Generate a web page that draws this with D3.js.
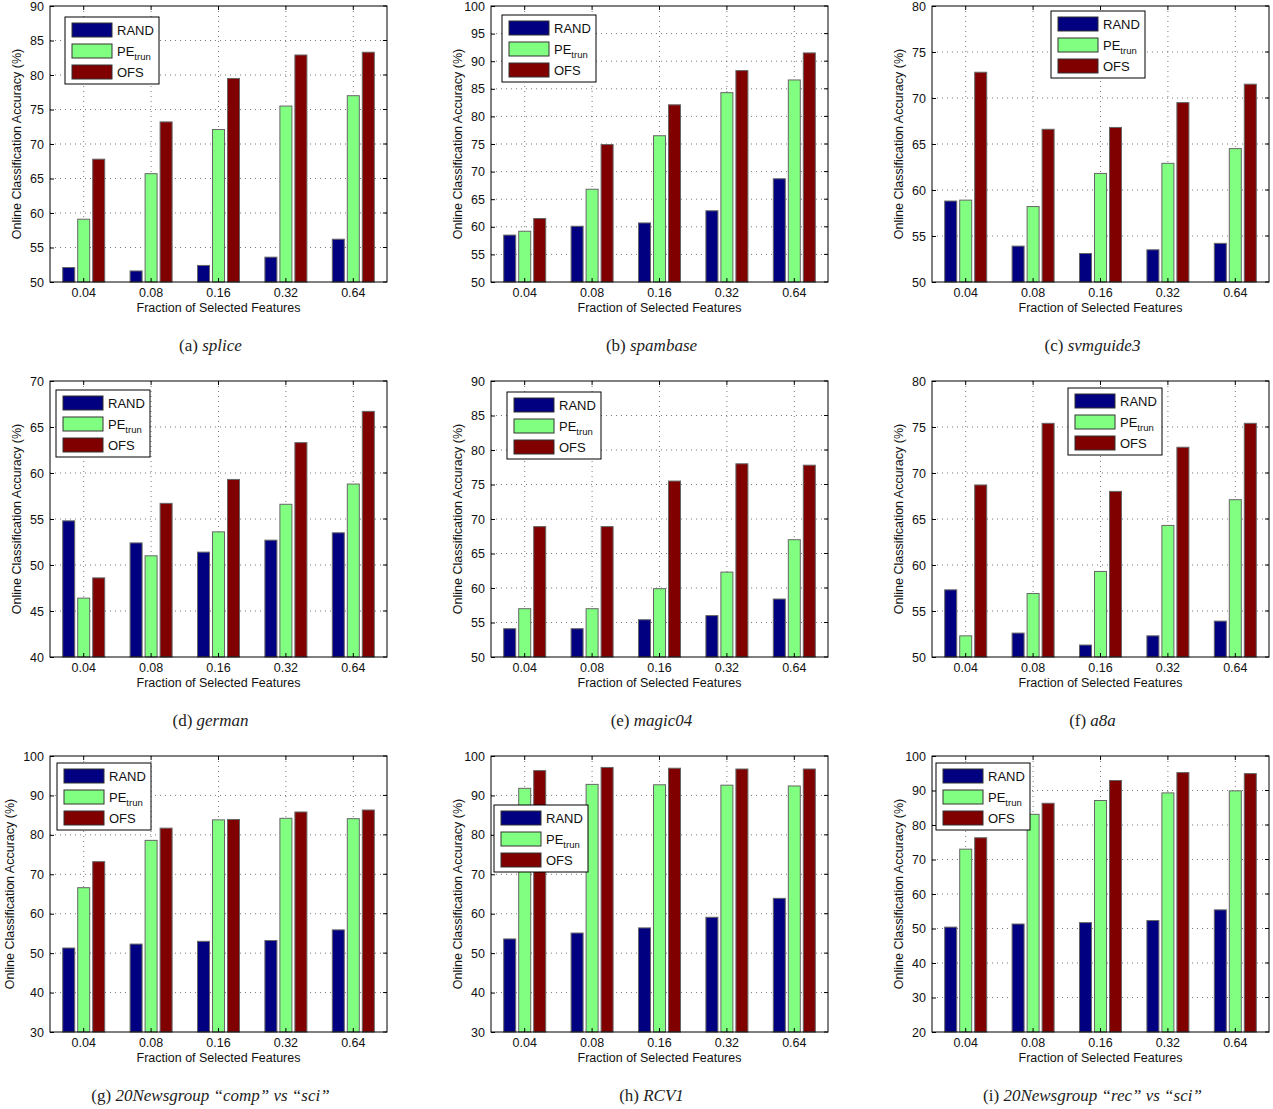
<!DOCTYPE html>
<html><head><meta charset="utf-8">
<script src="https://cdn.jsdelivr.net/npm/d3@7"></script>
<style>body{margin:0;background:#fff}svg{display:block}</style>
</head><body>
<script>
const categories = ["0.04","0.08","0.16","0.32","0.64"];
const seriesNames = ["RAND","PE","OFS"];
const titles = ["(a) |splice","(b) |spambase","(c) |svmguide3","(d) |german","(e) |magic04","(f) |a8a","(g) |20Newsgroup “comp” vs “sci”","(h) |RCV1","(i) |20Newsgroup “rec” vs “sci”"];
const yDomains = [[50,90],[50,100],[50,80],[40,70],[50,90],[50,80],[30,100],[30,100],[20,100]];
const yStep = [5,5,5,5,5,5,10,10,10];
const randVals = [
 [52.1,51.6,52.4,53.6,56.2],[58.5,60.1,60.7,62.9,68.7],[58.8,53.9,53.1,53.5,54.2],
 [54.8,52.4,51.4,52.7,53.5],[54.1,54.1,55.4,56.0,58.4],[57.3,52.6,51.3,52.3,53.9],
 [51.3,52.3,53.0,53.2,55.9],[53.6,55.1,56.4,59.1,63.9],[50.4,51.3,51.7,52.3,55.4]];
const peVals = [
 [59.1,65.7,72.1,75.5,77.0],[59.2,66.8,76.5,84.3,86.6],[58.9,58.2,61.8,62.9,64.5],
 [46.4,51.0,53.6,56.6,58.8],[57.0,57.0,59.9,62.3,67.0],[52.3,56.9,59.3,64.3,67.1],
 [66.6,78.6,83.8,84.2,84.1],[91.8,92.8,92.7,92.6,92.4],[73.0,83.1,87.1,89.3,89.9]];
const ofsVals = [
 [67.8,73.2,79.5,82.9,83.3],[61.5,74.9,82.1,88.3,91.5],[72.8,66.6,66.8,69.5,71.5],
 [48.6,56.7,59.3,63.3,66.7],[68.9,68.9,75.5,78.0,77.8],[68.7,75.4,68.0,72.8,75.4],
 [73.2,81.7,83.9,85.8,86.3],[96.3,97.1,96.9,96.7,96.7],[76.3,86.3,92.9,95.2,94.9]];
const legendPos = [[65,17],[502,15],[1051,11],[56,390],[507,392],[1068,388],[57,763],[494,805],[936,763]];
const colors = ["#000080","#80ff80","#800000"];

const svg = d3.select("body").append("svg").attr("width",1273).attr("height",1109)
  .style("font-family","'Liberation Sans',Arial,sans-serif");
const W=337,H=276, lefts=[50,491,932], tops=[6,381,756];

for(let p=0;p<9;p++){
  const col=p%3,row=Math.floor(p/3);
  const L=lefts[col],T=tops[row];
  const g=svg.append("g").attr("transform",`translate(${L},${T})`);
  const x=d3.scaleBand().domain(categories).range([0,W]);
  const y=d3.scaleLinear().domain(yDomains[p]).range([H,0]);
  const ticks=d3.range(yDomains[p][0],yDomains[p][1]+0.001,yStep[p]);
  g.selectAll(".gy").data(ticks.slice(1,-1)).join("line")
    .attr("x1",0).attr("x2",W).attr("y1",d=>y(d)).attr("y2",d=>y(d))
    .attr("stroke","#555").attr("stroke-width",0.8).attr("stroke-dasharray","1,4");
  g.selectAll(".gx").data(categories).join("line")
    .attr("x1",d=>x(d)+x.bandwidth()/2).attr("x2",d=>x(d)+x.bandwidth()/2).attr("y1",0).attr("y2",H)
    .attr("stroke","#555").attr("stroke-width",0.8).attr("stroke-dasharray","1,4");
  const series=[randVals[p],peVals[p],ofsVals[p]];
  const bw=12, off=[-15,0,15];
  series.forEach((vals,s)=>{
    g.selectAll(".b"+s).data(vals).join("rect")
      .attr("x",(d,i)=>x(categories[i])+x.bandwidth()/2+off[s]-bw/2)
      .attr("width",bw)
      .attr("y",d=>y(d)).attr("height",d=>H-y(d))
      .attr("fill",colors[s]).attr("stroke","#666").attr("stroke-width",1);
  });
  const ax=g.append("g").attr("transform",`translate(0,${H})`)
    .call(d3.axisBottom(x).tickSize(4).tickSizeOuter(0));
  const ay=g.append("g").call(d3.axisLeft(y).tickValues(ticks).tickSize(4).tickSizeOuter(0));
  ax.selectAll(".tick line").attr("y2",-4);
  ay.selectAll(".tick line").attr("x2",4);
  ax.selectAll("text").attr("y",6).style("font-size","12.5px").attr("fill","#111");
  ay.selectAll("text").attr("x",-6).style("font-size","12.5px").attr("fill","#111");
  ax.select(".domain").remove(); ay.select(".domain").remove();
  g.append("rect").attr("width",W).attr("height",H).attr("fill","none").attr("stroke","#000").attr("stroke-width",1);
  g.selectAll(".rt").data(ticks).join("line").attr("x1",W).attr("x2",W-4).attr("y1",d=>y(d)).attr("y2",d=>y(d)).attr("stroke","#000");
  g.selectAll(".tt").data(categories).join("line").attr("x1",d=>x(d)+x.bandwidth()/2).attr("x2",d=>x(d)+x.bandwidth()/2).attr("y1",0).attr("y2",4).attr("stroke","#000");
  g.append("text").attr("x",W/2).attr("y",H+30).attr("text-anchor","middle").style("font-size","12.5px").attr("fill","#111").text("Fraction of Selected Features");
  g.append("text").attr("transform",`translate(${row==2&&col==0?-36:-29},${H/2}) rotate(-90)`)
    .attr("text-anchor","middle").style("font-size","12.5px").attr("fill","#111").text("Online Classification Accuracy (%)");
  const [lab,name]=titles[p].split("|");
  const cap=svg.append("text").attr("x",L+W/2-8).attr("y",T+H+69).attr("text-anchor","middle")
    .style("font-family","'Liberation Serif','DejaVu Serif',serif").style("font-size","17px").attr("fill","#222");
  cap.append("tspan").text(lab); cap.append("tspan").style("font-style","italic").text(name);
  const [lx,ly]=legendPos[p];
  const lg=svg.append("g").attr("transform",`translate(${lx},${ly})`);
  lg.append("rect").attr("width",94).attr("height",67).attr("fill","#fff").attr("stroke","#000");
  seriesNames.forEach((n,s)=>{
    const yy=6+s*21;
    lg.append("rect").attr("x",7).attr("y",yy).attr("width",40).attr("height",14).attr("fill",colors[s]).attr("stroke","#333");
    const t=lg.append("text").attr("x",52).attr("y",yy+12).style("font-size","13px").attr("fill","#111");
    if(n==="PE"){t.append("tspan").text("PE");t.append("tspan").attr("dy",4).style("font-size","9.5px").text("trun");}
    else t.text(n);
  });
}
</script>
</body></html>
